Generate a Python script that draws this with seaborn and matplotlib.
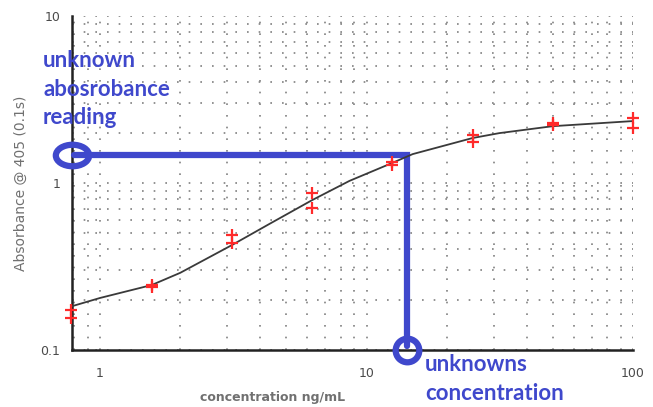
import matplotlib
matplotlib.use("Agg")
import matplotlib.pyplot as plt
import numpy as np
import pandas as pd
import seaborn as sns
from matplotlib.path import Path
from matplotlib.transforms import Affine2D
from matplotlib.ticker import LogLocator, NullFormatter, FixedFormatter, FixedLocator

# standards: two replicate readings per dilution
std_conc = [0.78125, 0.78125, 1.5625, 1.5625, 3.125, 3.125, 6.25, 6.25,
            12.5, 12.5, 25, 25, 50, 50, 100, 100]
std_abs = [0.174, 0.155, 0.244, 0.240, 0.488, 0.437, 0.871, 0.705,
           1.33, 1.28, 1.94, 1.77, 2.29, 2.24, 2.45, 2.13]

# fitted standard curve
curve_conc = [0.785, 1.0, 1.5625, 2.0, 3.125, 4.33, 6.25, 8.63, 12.5, 14.9,
              25, 31.5, 50, 100]
curve_abs = [0.183, 0.205, 0.245, 0.29, 0.425, 0.57, 0.79, 1.03, 1.32, 1.49,
             1.86, 1.99, 2.19, 2.35]

# unknown sample
unknown_abs = 1.47
unknown_conc = 14.2

x_ticks = [1, 10, 100]
x_ticklabels = ["1", "10", "100"]
y_ticks = [0.1, 1, 10]
y_ticklabels = ["0.1", "1", "10"]

blue = "#3f48cc"
grey = "#707070"

sns.set_style("white")
plt.rcParams["font.family"] = ["DejaVu Sans"]

fig = plt.figure(figsize=(6.53, 4.07), dpi=100)
ax = fig.add_axes([0.1103, 0.1400, 0.8591, 0.8206])
ax.set_xscale("log")
ax.set_yscale("log")
ax.set_xlim(0.785, 100)
ax.set_ylim(0.1, 10)

# dotted grid at every minor/major decade step
ax.xaxis.set_minor_locator(LogLocator(base=10, subs=np.arange(2, 10)))
ax.yaxis.set_minor_locator(LogLocator(base=10, subs=np.arange(2, 10)))
ax.xaxis.set_minor_formatter(NullFormatter())
ax.yaxis.set_minor_formatter(NullFormatter())
ax.grid(True, which="both", color="#808080", linestyle=(0, (1, 6)), linewidth=1.2)

# blue annotation lines (drawn under the data)
ax.plot([0.80, unknown_conc, unknown_conc], [unknown_abs, unknown_abs, 0.106],
        color=blue, linewidth=4.5, solid_joinstyle="miter", zorder=3,
        clip_on=False)
ellipse = Path.unit_circle().transformed(Affine2D().scale(1.55, 1.0))
ax.plot([0.785], [unknown_abs], marker=ellipse, markersize=24,
        markerfacecolor="none", markeredgecolor=blue, markeredgewidth=4.5,
        zorder=4, clip_on=False)
ax.plot([unknown_conc], [0.1], marker="o", markersize=17,
        markerfacecolor="none", markeredgecolor=blue, markeredgewidth=4.5,
        zorder=4, clip_on=False)

curve = pd.DataFrame({"conc": curve_conc, "abs": curve_abs})
sns.lineplot(data=curve, x="conc", y="abs", ax=ax, color="#3a3a3a",
             linewidth=1.3, zorder=5)
stds = pd.DataFrame({"conc": std_conc, "abs": std_abs})
sns.scatterplot(data=stds, x="conc", y="abs", ax=ax, marker="+", s=75,
                color="#ff2a2a", linewidth=1.6, zorder=6, clip_on=False)

ax.xaxis.set_major_locator(FixedLocator(x_ticks))
ax.xaxis.set_major_formatter(FixedFormatter(x_ticklabels))
ax.yaxis.set_major_locator(FixedLocator(y_ticks))
ax.yaxis.set_major_formatter(FixedFormatter(y_ticklabels))

for side in ["top", "right"]:
    ax.spines[side].set_visible(False)
for side in ["left", "bottom"]:
    ax.spines[side].set_color("#222222")
    ax.spines[side].set_linewidth(1.8)
ax.tick_params(which="major", direction="inout", length=5, width=1.5,
               color="#222222", labelsize=9, labelcolor="#4a4a4a")
ax.tick_params(which="minor", direction="inout", length=3, width=1.2,
               color="#222222")
ax.tick_params(axis="x", which="major", pad=10)
ax.tick_params(axis="y", which="major", pad=6)

ax.set_xlabel("concentration ng/mL", color=grey, fontsize=9,
              fontweight="bold", x=0.358, labelpad=8)
ax.set_ylabel("Absorbance @ 405 (0.1s)", color=grey, fontsize=10,
              labelpad=9)

fig.text(43 / 653, 1 - 50 / 407, "unknown\nabosrobance\nreading", color=blue,
         fontsize=16, fontweight="bold", family=["Lato", "DejaVu Sans"],
         va="top", ha="left", linespacing=1.45)
fig.text(425 / 653, 1 - 354 / 407, "unknowns\nconcentration", color=blue,
         fontsize=16, fontweight="bold", family=["Lato", "DejaVu Sans"],
         va="top", ha="left", linespacing=1.45)

fig.savefig("out.png", dpi=100)
